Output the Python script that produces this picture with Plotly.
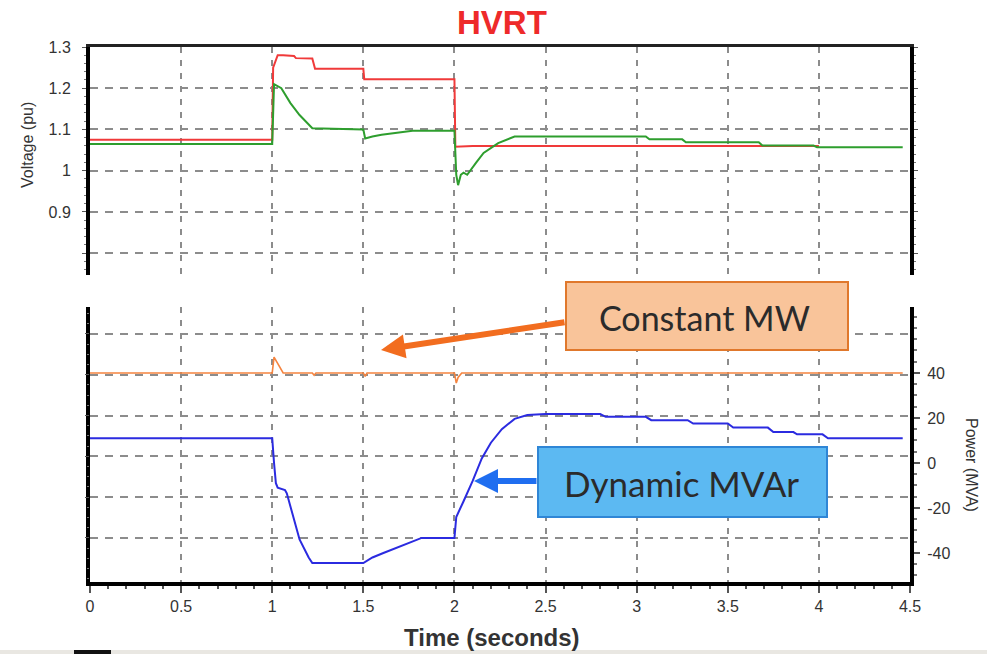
import plotly.graph_objects as go

# ---------------- data ----------------
t_red = [0, 1.0, 1.005, 1.03, 1.06, 1.12, 1.13, 1.22, 1.235, 1.5, 1.505, 2.0, 2.005, 2.1, 4.0]
v_red = [1.075, 1.075, 1.25, 1.28, 1.28, 1.278, 1.273, 1.272, 1.247, 1.247, 1.222, 1.222, 1.058, 1.06, 1.06]

t_green = [0, 1.0, 1.01, 1.05, 1.10, 1.15, 1.22, 1.5, 1.51, 1.55, 1.6, 1.7, 1.77, 2.0,
           2.01, 2.02, 2.035, 2.05, 2.07, 2.12, 2.16, 2.24, 2.33, 3.05, 3.07, 3.25, 3.27,
           3.67, 3.69, 3.97, 3.99, 4.46]
v_green = [1.065, 1.065, 1.21, 1.2, 1.164, 1.135, 1.103, 1.1, 1.078, 1.083, 1.087, 1.092, 1.097, 1.097,
           0.99, 0.965, 0.99, 0.995, 0.99, 1.02, 1.043, 1.067, 1.083, 1.083, 1.076, 1.076, 1.069,
           1.069, 1.061, 1.061, 1.057, 1.057]

t_mw = [0, 1.0, 1.01, 1.03, 1.06, 1.22, 1.23, 1.24, 1.5, 1.51, 1.52, 2.0, 2.01, 2.02, 2.04, 4.46]
v_mw = [40, 40, 47, 44, 40, 40, 39, 40, 40, 38.5, 40, 40, 35.5, 38, 40, 40]

t_mvar = [0, 1.0, 1.01, 1.02, 1.03, 1.07, 1.08, 1.12, 1.15, 1.2, 1.22, 1.5, 1.55, 1.61, 1.7,
          1.76, 1.82, 2.0, 2.01, 2.05, 2.1, 2.15, 2.2, 2.26, 2.33, 2.4, 2.5, 2.8, 2.83, 3.05,
          3.08, 3.28, 3.31, 3.5, 3.53, 3.72, 3.75, 3.86, 3.88, 4.02, 4.05, 4.46]
v_mvar = [11, 11, 0, -9, -11, -12, -13.5, -25, -34, -42, -44.5, -44.5, -42, -40, -37,
          -35, -33.3, -33.3, -24, -17, -8, 2, 9, 15, 19.6, 21.3, 21.7, 21.7, 20.5, 20.5,
          19, 19, 17.5, 17.5, 15.7, 15.7, 13.7, 13.7, 12.7, 12.7, 11, 11]

x_ticks = [0, 0.5, 1, 1.5, 2, 2.5, 3, 3.5, 4, 4.5]
x_ticktext = ["0", "0.5", "1", "1.5", "2", "2.5", "3", "3.5", "4", "4.5"]
v_ticks = [0.8, 0.9, 1.0, 1.1, 1.2, 1.3]
v_ticktext = ["", "0.9", "1", "1.1", "1.2", "1.3"]
p_ticks = [-40, -20, 0, 20, 40]
p_ticktext = ["-40", "-20", "0", "20", "40"]
grid_rows = [1, 2, 3, 4, 5, 6]

# ---------------- layout helpers (pixel -> paper) ----------------
W, H = 987, 654
L, R, T, B = 90, 910, 47, 582


def px(x):
    return (x - L) / (R - L)


def py(y):
    return (B - y) / (B - T)


FONT = "Liberation Sans, Arial, sans-serif"
BOXFONT = "Lato, Open Sans, sans-serif"
GRID = "#8c8c8c"

fig = go.Figure()
fig.add_trace(go.Scatter(x=t_red, y=v_red, mode="lines", line=dict(color="#f03a3a", width=2),
                         xaxis="x2", yaxis="y", hoverinfo="skip"))
fig.add_trace(go.Scatter(x=t_green, y=v_green, mode="lines", line=dict(color="#2e9e2e", width=2),
                         xaxis="x2", yaxis="y", hoverinfo="skip"))
fig.add_trace(go.Scatter(x=t_mw, y=v_mw, mode="lines", line=dict(color="#f5843f", width=1.6),
                         xaxis="x", yaxis="y2", hoverinfo="skip"))
fig.add_trace(go.Scatter(x=t_mvar, y=v_mvar, mode="lines", line=dict(color="#2b2be0", width=2),
                         xaxis="x", yaxis="y2", hoverinfo="skip"))
# invisible anchor trace so the grid axis of the lower panel is drawn
fig.add_trace(go.Scatter(x=[0], y=[1], mode="markers", marker=dict(opacity=0), xaxis="x", yaxis="y3",
                         hoverinfo="skip"))

top_dom = [py(275), 1]
bot_dom = [0, py(307)]

fig.update_layout(
    width=W, height=H,
    margin=dict(l=L, r=W - R, t=T, b=H - B, autoexpand=False),
    paper_bgcolor="white", plot_bgcolor="white",
    showlegend=False,
    font=dict(family=FONT, color="#333333", size=16),
    xaxis=dict(domain=[0, 1], anchor="y2", range=[0, 4.5], tickvals=x_ticks, ticktext=x_ticktext,
               showgrid=True, gridcolor=GRID, griddash="6px,7px", gridwidth=2,
               showline=True, linecolor="black", linewidth=4, ticks="outside", ticklen=7,
               tickcolor="#555", tickwidth=2,
               minor=dict(ticks="outside", ticklen=3, dtick=0.1, tickcolor="#555", showgrid=False),
               zeroline=False, tickfont=dict(size=16, color="#333")),
    xaxis2=dict(domain=[0, 1], anchor="y", range=[0, 4.5], tickvals=x_ticks, showticklabels=False,
                showgrid=True, gridcolor=GRID, griddash="6px,7px", gridwidth=2,
                showline=True, side="top", linecolor="#222", linewidth=3, ticks="", zeroline=False),
    yaxis=dict(domain=top_dom, anchor="x2", range=[0.747, 1.3], tickvals=v_ticks, ticktext=v_ticktext,
               showgrid=True, gridcolor=GRID, griddash="8px,7px", gridwidth=2,
               showline=True, mirror="ticks", linecolor="black", linewidth=4,
               ticks="outside", ticklen=4, tickcolor="#555", ticklabelstandoff=8,
               minor=dict(ticks="outside", ticklen=2, dtick=0.02, tickcolor="#777", showgrid=False),
               zeroline=False, tickfont=dict(size=16, color="#333")),
    yaxis2=dict(domain=bot_dom, anchor="x", side="right", range=[-52.9, 69.3],
                tickvals=p_ticks, ticktext=p_ticktext, showgrid=False, zeroline=False,
                showline=True, mirror=True, linecolor="black", linewidth=4,
                ticks="outside", ticklen=6, tickcolor="#555", tickwidth=2, ticklabelstandoff=4,
                minor=dict(ticks="outside", ticklen=3, dtick=5, tickcolor="#777"),
                tickfont=dict(size=16, color="#333")),
    yaxis3=dict(domain=bot_dom, overlaying="y2", anchor="x", side="left", range=[-0.08, 6.66],
                tickvals=grid_rows, showticklabels=False, showgrid=True, gridcolor=GRID,
                griddash="8px,7px", gridwidth=2, showline=False,
                ticks="outside", ticklen=4, tickcolor="#555",
                minor=dict(ticks="outside", ticklen=2, dtick=0.25, tickcolor="#777", showgrid=False),
                zeroline=False),
)

shapes = []
# annotation boxes
shapes.append(dict(type="rect", xref="paper", yref="paper", x0=px(566), x1=px(848), y0=py(350), y1=py(282),
                   fillcolor="#f9c49a", line=dict(color="#e0782c", width=2), layer="above"))
shapes.append(dict(type="rect", xref="paper", yref="paper", x0=px(538), x1=px(827), y0=py(517), y1=py(447),
                   fillcolor="#5cb9f2", line=dict(color="#2f86d6", width=2), layer="above"))
# bottom strip of the picture
shapes.append(dict(type="rect", xref="paper", yref="paper", x0=px(0), x1=px(987), y0=py(654), y1=py(650),
                   fillcolor="#e9e7e2", line=dict(width=0), layer="above"))
shapes.append(dict(type="rect", xref="paper", yref="paper", x0=px(74), x1=px(111), y0=py(654), y1=py(650),
                   fillcolor="#111111", line=dict(width=0), layer="above"))
fig.update_layout(shapes=shapes)

ann = []
ann.append(dict(text="<b>HVRT</b>", xref="paper", yref="paper", x=px(502), y=py(22), showarrow=False,
                font=dict(family=FONT, size=33, color="#ee2a2a"), xanchor="center", yanchor="middle"))
ann.append(dict(text="<b>Time (seconds)</b>", xref="paper", yref="paper", x=px(492), y=py(637),
                showarrow=False, font=dict(family=FONT, size=24, color="#333"),
                xanchor="center", yanchor="middle"))
ann.append(dict(text="Voltage (pu)", xref="paper", yref="paper", x=px(27), y=py(145), textangle=-90,
                showarrow=False, font=dict(family=FONT, size=16, color="#333"),
                xanchor="center", yanchor="middle"))
ann.append(dict(text="Power (MVA)", xref="paper", yref="paper", x=px(972), y=py(465), textangle=90,
                showarrow=False, font=dict(family=FONT, size=16, color="#333"),
                xanchor="center", yanchor="middle"))
ann.append(dict(text="Constant MW", xref="paper", yref="paper", x=px(704), y=py(317), showarrow=False,
                font=dict(family=BOXFONT, size=34, color="#2b2b2b"),
                xanchor="center", yanchor="middle"))
ann.append(dict(text="Dynamic MVAr", xref="paper", yref="paper", x=px(681), y=py(483), showarrow=False,
                font=dict(family=BOXFONT, size=35, color="#2b2b2b"),
                xanchor="center", yanchor="middle"))
# arrows
ann.append(dict(text="", xref="paper", yref="paper", x=px(381), y=py(350), ax=566 - 381, ay=322 - 350,
                showarrow=True, arrowhead=2, arrowsize=0.8, arrowwidth=6, arrowcolor="#f26d1f"))
ann.append(dict(text="", xref="paper", yref="paper", x=px(474), y=py(481), ax=538 - 474, ay=0,
                showarrow=True, arrowhead=2, arrowsize=0.8, arrowwidth=6, arrowcolor="#1f6ef0"))
fig.update_layout(annotations=ann)

fig.write_html("out.html", config={"displayModeBar": False},
               post_script="document.body.style.margin='0';document.body.style.overflow='hidden';")
